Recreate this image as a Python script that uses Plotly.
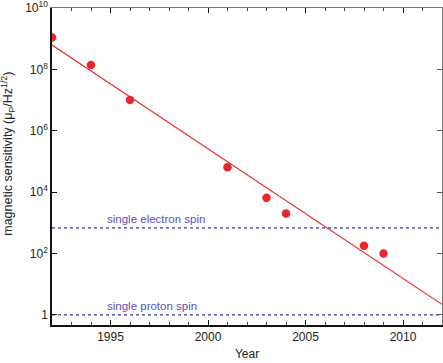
import math
import plotly.graph_objects as go

# measured points (year, sensitivity in muP/Hz^1/2)
years = [1992, 1994, 1996, 2001, 2003, 2004, 2008, 2009]
sensitivity = [1.1e9, 1.4e8, 1.0e7, 6.5e4, 6.5e3, 2.0e3, 1.8e2, 1.0e2]

# trend line end points
trend_years = [1992, 2012]
trend_values = [6.2e8, 2.2]

# reference levels
electron_level = 680
proton_level = 1

y_tickvals = [1, 1e2, 1e4, 1e6, 1e8, 1e10]
y_ticktext = ["1", "10<sup>2</sup>", "10<sup>4</sup>", "10<sup>6</sup>", "10<sup>8</sup>", "10<sup>10</sup>"]

red = "#e8262b"
blue = "#3a3aa0"
label_blue = "#5a52b4"
font = "Liberation Sans, Arial, sans-serif"

fig = go.Figure()

for level in [electron_level, proton_level]:
    fig.add_trace(go.Scatter(
        x=[1992, 2012], y=[level, level],
        mode="lines",
        line=dict(color=blue, width=1.3, dash="dot"),
        hoverinfo="none"))

fig.add_trace(go.Scatter(
    x=trend_years, y=trend_values,
    mode="lines",
    line=dict(color=red, width=1.2),
    hoverinfo="none"))

fig.add_trace(go.Scatter(
    x=years, y=sensitivity,
    mode="markers",
    marker=dict(color=red, size=8.5, line_width=0)))

# annotations on log axes take log10 positions
for label, level in [("single electron spin", electron_level), ("single proton spin", proton_level)]:
    fig.add_annotation(x=1994.7, y=math.log10(level), xref="x", yref="y",
                       text=label, showarrow=False,
                       xanchor="left", yanchor="bottom", yshift=1,
                       font=dict(color=label_blue, size=11.5, family=font))

# y title as a rotated annotation so it can sit close to the page edge
fig.add_annotation(x=-0.113, y=0.54, xref="paper", yref="paper",
                   text="magnetic sensitivity (\u03bc<sub>P</sub>/Hz<sup>1/2</sup>)",
                   textangle=-90, showarrow=False,
                   xanchor="center", yanchor="middle",
                   font=dict(size=12.5, color="#222", family=font))

fig.update_layout(
    width=443, height=363,
    margin=dict(l=52, r=1, t=8, b=38),
    plot_bgcolor="white", paper_bgcolor="white",
    showlegend=False,
    font=dict(family=font, size=12, color="#222"),
    xaxis=dict(
        range=[1992, 2012], automargin=False,
        tickvals=[1995, 2000, 2005, 2010],
        ticks="inside", ticklen=5, tickcolor="#111",
        minor=dict(dtick=1, ticks="inside", ticklen=3, tickcolor="#444"),
        showline=True, linecolor="#111", linewidth=1.5,
        showgrid=False, zeroline=False, ticklabeloverflow="allow",
        title=dict(text="Year", font=dict(size=12), standoff=6),
        tickfont=dict(size=12)),
    yaxis=dict(
        type="log", automargin=False,
        range=[-0.33, 10],
        tickvals=y_tickvals, ticktext=y_ticktext,
        ticks="inside", ticklen=5, tickcolor="#111",
        showline=True, linecolor="#111", linewidth=1.5,
        showgrid=False, zeroline=False, ticklabeloverflow="allow",
        tickfont=dict(size=12)),
    xaxis2=dict(
        overlaying="x", side="top", automargin=False,
        range=[1992, 2012],
        tickvals=[1995, 2000, 2005, 2010], showticklabels=False,
        ticks="inside", ticklen=5, tickcolor="#111",
        minor=dict(dtick=1, ticks="inside", ticklen=3, tickcolor="#444"),
        showline=True, linecolor="#777", linewidth=1,
        showgrid=False, zeroline=False),
    yaxis2=dict(
        overlaying="y", side="right", type="log", automargin=False,
        range=[-0.33, 10],
        tickvals=y_tickvals, showticklabels=False,
        ticks="inside", ticklen=5, tickcolor="#555",
        showline=True, linecolor="#777", linewidth=1,
        showgrid=False, zeroline=False),
)

# empty trace so the mirror axes get drawn
fig.add_trace(go.Scatter(x=[None], y=[None], xaxis="x2", yaxis="y2", hoverinfo="none"))

# drop the default page margin so the figure sits at the window corner
fig.write_html("out.html", config={"displayModeBar": False},
               post_script="document.body.style.margin='0';")
